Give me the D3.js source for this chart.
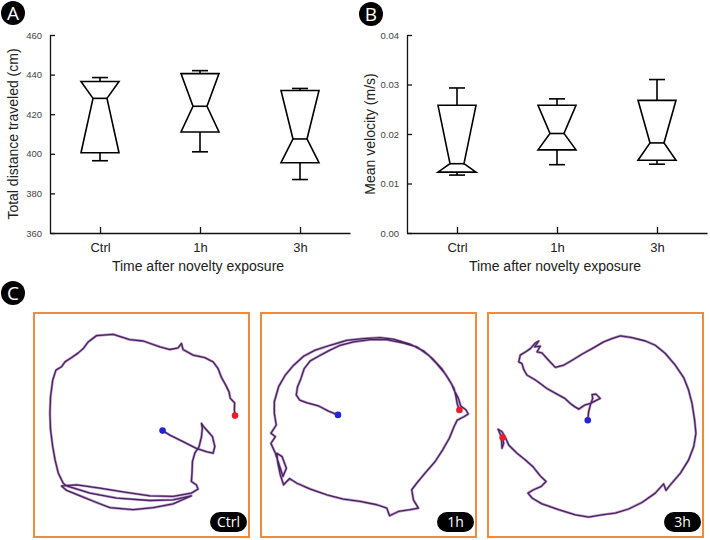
<!DOCTYPE html>
<html>
<head>
<meta charset="utf-8">
<script src="https://cdn.jsdelivr.net/npm/d3@7"></script>
<style>
  body { margin: 0; background: #fff; }
  svg { display: block; font-family: "Liberation Sans", Arial, sans-serif; }
</style>
</head>
<body>
<div id="chart"></div>
<script>
// ---- data ----
const categories = ["Ctrl", "1h", "3h"];

// total distance traveled (cm)
const distMin = [396.5, 401, 387];
const distQ1  = [400.5, 411, 395.5];
const distMed = [428, 424, 407.5];
const distQ3  = [436.5, 440.5, 432];
const distMax = [438.5, 442, 433];
const distTicks = [360, 380, 400, 420, 440, 460];

// mean velocity (m/s)
const velMin = [0.0117, 0.0138, 0.0139];
const velQ1  = [0.0123, 0.0168, 0.0147];
const velMed = [0.0140, 0.0201, 0.0182];
const velQ3  = [0.0258, 0.0258, 0.0268];
const velMax = [0.0293, 0.0271, 0.0310];
const velTicks = [0, 0.01, 0.02, 0.03, 0.04];

// trajectories, arena coordinates 0-100 (x: left->right, y: top->bottom)
const trackCtrl = [
  [59.8,52.5],[63.2,54.5],[69.3,57.4],[75.5,60.4],[80.2,61.9],[83.3,62.6],[84.1,59.6],[83.0,55.2],
  [81.0,53.0],[78.9,50.7],[77.9,49.3],[78.3,51.5],[77.9,55.2],[76.8,59.6],[74.8,62.6],[73.7,66.3],
  [73.5,71.5],[73.2,75.2],[75.5,76.7],[76.3,78.6],[73.2,80.4],[64.7,81.9],[53.9,81.6],[43.0,80.1],
  [30.7,78.2],[19.8,76.7],[12.8,77.2],[15.2,79.2],[21.4,81.6],[29.1,84.6],[35.3,86.9],[46.1,87.8],
  [55.4,86.9],[64.7,85.2],[70.9,82.6],[73.2,81.6],[64.7,83.4],[53.9,83.7],[38.4,82.6],[26.0,80.4],
  [15.2,77.2],[13.6,76.0],[11.3,71.5],[9.8,65.6],[8.7,59.6],[7.7,52.2],[7.4,44.8],[7.7,37.4],
  [8.7,30.0],[10.2,25.5],[12.8,24.0],[14.4,21.8],[17.5,19.9],[20.6,17.8],[22.9,15.9],[25.2,12.9],
  [29.1,10.1],[36.8,9.5],[44.6,11.9],[50.8,12.5],[58.5,15.1],[63.2,16.3],[67.0,15.6],[68.6,13.6],
  [69.3,16.3],[74.0,18.8],[79.4,19.9],[83.3,21.8],[85.6,24.8],[87.2,28.8],[89.2,32.2],[90.7,35.2],
  [91.3,38.1],[93.3,40.1],[93.2,43.3],[93.5,45.8]
];
const track1h = [
  [35.8,45.5],[31.4,43.8],[26.8,41.5],[21.4,40.1],[18.0,38.9],[16.4,36.6],[17.0,32.9],[18.6,29.2],
  [20.1,24.8],[22.9,21.4],[26.8,19.3],[31.4,16.9],[36.8,14.4],[43.0,12.9],[50.8,11.9],[58.5,11.9],
  [66.3,13.4],[72.4,15.1],[77.9,18.8],[81.7,22.6],[85.6,27.0],[88.7,31.8],[89.8,34.4],[91.8,38.1],
  [92.9,41.5],[95.4,43.3],[96.4,45.1],[94.4,46.3],[91.3,47.8],[89.8,50.7],[87.6,55.9],[84.5,61.1],
  [81.0,66.3],[76.3,71.5],[72.4,76.0],[70.1,78.9],[70.9,83.4],[73.2,87.1],[69.3,87.8],[63.9,88.6],
  [59.8,90.5],[58.5,87.1],[53.9,85.6],[46.1,84.1],[38.4,83.1],[30.7,81.2],[22.9,78.6],[16.7,76.0],
  [13.3,73.9],[10.5,76.7],[9.0,72.3],[7.7,66.3],[7.4,62.6],[9.8,64.1],[11.8,69.3],[10.2,73.0],
  [8.7,68.5],[6.7,62.6],[4.6,58.2],[6.7,55.2],[4.6,53.7],[7.1,50.0],[6.2,44.8],[6.2,39.6],
  [8.2,32.9],[11.3,27.7],[15.2,23.3],[19.8,19.3],[25.2,16.6],[32.2,14.4],[39.9,12.2],[47.7,11.4],
  [55.4,11.0],[61.6,11.7],[69.3,13.9],[75.5,16.9],[80.2,20.8],[84.1,24.9],[87.6,30.0],[89.8,33.7],
  [90.7,37.4],[91.3,40.7],[92.3,43.3]
];
const track3h = [
  [46.4,47.9],[46.8,44.1],[47.6,41.1],[48.7,38.1],[48.4,36.4],[50.2,36.2],[52.2,38.1],[49.9,39.2],
  [47.6,40.4],[45.0,41.1],[42.2,42.9],[40.3,41.8],[38.3,40.4],[35.7,38.1],[32.1,36.2],[27.4,33.7],
  [24.3,31.5],[21.7,29.7],[18.1,27.7],[16.6,25.2],[15.8,22.6],[14.3,21.8],[15.0,18.8],[17.4,17.4],
  [19.7,15.9],[22.0,13.4],[23.6,12.5],[21.7,15.1],[24.3,14.8],[22.8,17.4],[25.1,17.8],[28.2,21.1],
  [31.3,24.3],[35.2,23.3],[39.1,21.1],[43.7,18.4],[48.4,15.9],[53.8,12.9],[57.7,11.4],[61.6,10.2],
  [67.0,11.0],[73.2,12.5],[77.8,14.4],[82.5,18.1],[87.1,23.3],[91.0,28.8],[93.3,34.4],[94.9,40.4],
  [96.1,47.8],[96.7,53.7],[95.7,59.6],[93.3,65.6],[89.5,71.5],[84.8,76.7],[82.8,79.2],[81.7,76.3],
  [77.8,80.4],[71.6,84.6],[65.4,87.5],[59.2,89.3],[53.0,90.1],[46.8,91.1],[40.6,90.1],[32.9,87.8],
  [25.1,85.2],[20.5,82.6],[18.6,80.4],[21.2,78.9],[24.8,77.4],[27.0,75.2],[24.3,72.7],[20.8,68.5],
  [17.4,65.6],[13.5,62.6],[9.6,58.9],[8.1,55.6],[6.5,53.0],[4.7,51.9],[6.2,55.2],[6.5,60.4],
  [7.3,58.2],[6.8,55.6]
];
const trackLabels = ["Ctrl", "1h", "3h"];

// ---- drawing ----
const W = 710, H = 540;
const svg = d3.select("#chart").append("svg").attr("width", W).attr("height", H);

function panelLabel(cx, cy, letter) {
  svg.append("circle").attr("cx", cx).attr("cy", cy).attr("r", 12).attr("fill", "#000");
  svg.append("text").attr("x", cx).attr("y", cy + 6.5).attr("text-anchor", "middle")
    .attr("fill", "#fff").style("font-size", "19px").style("font-family", "Open Sans, sans-serif")
    .text(letter);
}

function boxPanel(opts) {
  const x = d3.scalePoint().domain(categories).range([opts.left, opts.left + 300]).padding(0.5);
  const y = d3.scaleLinear().domain(opts.domain).range([233, 35]);
  const g = svg.append("g");

  const ya = g.append("g").attr("transform", `translate(${opts.left},0)`)
    .call(d3.axisLeft(y).tickValues(opts.ticks).tickFormat(opts.fmt)
      .tickSizeInner(-5).tickSizeOuter(0).tickPadding(8));
  ya.selectAll("text").style("font-size", "9.5px").attr("fill", "#444");

  const xa = g.append("g").attr("transform", "translate(0,233)")
    .call(d3.axisBottom(x).tickSizeInner(-6).tickSizeOuter(0).tickPadding(10));
  xa.selectAll("text").style("font-size", "13px").attr("fill", "#222");
  g.selectAll(".domain, .tick line").attr("stroke", "#111").attr("stroke-width", 1.3);

  g.append("text").attr("transform", `translate(${opts.left - 32},134) rotate(-90)`)
    .attr("text-anchor", "middle").style("font-size", "14px").attr("fill", "#222")
    .text(opts.ytitle);
  g.append("text").attr("x", opts.left + 148).attr("y", 271).attr("text-anchor", "middle")
    .style("font-size", "14px").attr("fill", "#222").text("Time after novelty exposure");

  const bw = 19, nw = 7, cw = 8;
  const rows = categories.map((c, i) => ({
    c, min: opts.min[i], q1: opts.q1[i], med: opts.med[i], q3: opts.q3[i], max: opts.max[i]
  }));
  const b = g.selectAll("g.box").data(rows).enter().append("g").attr("class", "box");
  const st = s => s.attr("stroke", "#000").attr("stroke-width", 1.6).attr("fill", "none");
  // whiskers
  b.append("line").attr("x1", d => x(d.c)).attr("x2", d => x(d.c))
    .attr("y1", d => y(d.q3)).attr("y2", d => y(d.max)).call(st);
  b.append("line").attr("x1", d => x(d.c)).attr("x2", d => x(d.c))
    .attr("y1", d => y(d.q1)).attr("y2", d => y(d.min)).call(st);
  b.append("line").attr("x1", d => x(d.c) - cw).attr("x2", d => x(d.c) + cw)
    .attr("y1", d => y(d.max)).attr("y2", d => y(d.max)).call(st);
  b.append("line").attr("x1", d => x(d.c) - cw).attr("x2", d => x(d.c) + cw)
    .attr("y1", d => y(d.min)).attr("y2", d => y(d.min)).call(st);
  // notched box (notches reach past the hinges)
  b.append("path").attr("d", d => {
    const cx = x(d.c);
    return d3.line()([
      [cx - bw, y(d.q3)], [cx + bw, y(d.q3)], [cx + nw, y(d.med)],
      [cx + bw, y(d.q1)], [cx - bw, y(d.q1)], [cx - nw, y(d.med)]
    ]) + "Z";
  }).call(st).attr("fill", "#fff").attr("stroke-linejoin", "miter");
  b.append("line").attr("x1", d => x(d.c) - nw).attr("x2", d => x(d.c) + nw)
    .attr("y1", d => y(d.med)).attr("y2", d => y(d.med)).call(st);
}

boxPanel({
  left: 50, domain: [360, 460], ticks: distTicks, fmt: d3.format("d"),
  ytitle: "Total distance traveled (cm)",
  min: distMin, q1: distQ1, med: distMed, q3: distQ3, max: distMax
});
boxPanel({
  left: 407, domain: [0, 0.04], ticks: velTicks, fmt: d3.format(".2f"),
  ytitle: "Mean velocity (m/s)",
  min: velMin, q1: velQ1, med: velMed, q3: velQ3, max: velMax
});

panelLabel(13, 13, "A");
panelLabel(371, 14, "B");
panelLabel(13, 293, "C");

// ---- panel C: trajectories ----
const tracks = [trackCtrl, track1h, track3h];
const boxLefts = [34, 261, 488];
const boxTop = 313, boxW = 215, boxH = 224;

tracks.forEach((pts, i) => {
  const L = boxLefts[i];
  const sx = d3.scaleLinear().domain([0, 100]).range([L, L + boxW]);
  const sy = d3.scaleLinear().domain([0, 100]).range([boxTop, boxTop + boxH]);
  const g = svg.append("g");
  g.append("rect").attr("x", L).attr("y", boxTop).attr("width", boxW).attr("height", boxH)
    .attr("fill", "#fff").attr("stroke", "#f08a3c").attr("stroke-width", 2);
  const line = d3.line().x(d => sx(d[0])).y(d => sy(d[1]));
  g.append("path").attr("d", line(pts)).attr("fill", "none")
    .attr("stroke", "#b79ac6").attr("stroke-width", 2.6).attr("stroke-linejoin", "round");
  g.append("path").attr("d", line(pts)).attr("fill", "none")
    .attr("stroke", "#4b2160").attr("stroke-width", 1.3).attr("stroke-linejoin", "round");
  const first = pts[0], last = pts[pts.length - 1];
  g.append("circle").attr("cx", sx(first[0])).attr("cy", sy(first[1])).attr("r", 3.3).attr("fill", "#2424d6");
  g.append("circle").attr("cx", sx(last[0])).attr("cy", sy(last[1])).attr("r", 3.3).attr("fill", "#ee1c24");
  // corner tag
  const tw = 37, th = 20;
  g.append("rect").attr("x", L + boxW - tw - 2).attr("y", boxTop + boxH - th - 5)
    .attr("width", tw).attr("height", th).attr("rx", 10).attr("fill", "#000");
  g.append("text").attr("x", L + boxW - tw / 2 - 2).attr("y", boxTop + boxH - 10)
    .attr("text-anchor", "middle").attr("fill", "#fff")
    .style("font-size", "14px").style("font-family", "Open Sans, sans-serif")
    .text(trackLabels[i]);
});
</script>
</body>
</html>
